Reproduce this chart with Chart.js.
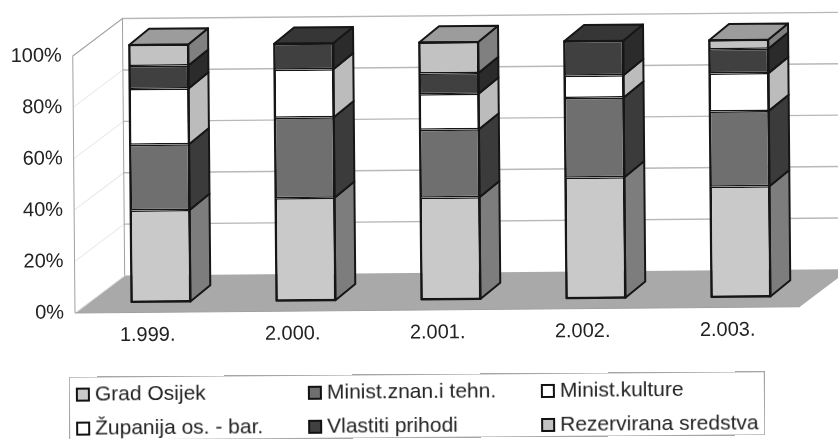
<!DOCTYPE html>
<html>
<head>
<meta charset="utf-8">
<script src="https://cdn.jsdelivr.net/npm/chart.js@4"></script>
<style>
  html, body { margin: 0; padding: 0; background: #fff; }
  #wrap { position: relative; width: 838px; height: 439px; overflow: hidden; }
  #legend {
    position: absolute; left: 69px; top: 374px; width: 696px; height: 64px;
    border: 1px solid #a6a6a6; box-sizing: border-box; transform: rotate(-0.45deg);
    font: 21px "Liberation Sans", Arial, sans-serif; color: #222;
  }
  #legend div.item { position: absolute; white-space: nowrap; }
  #legend i { display: inline-block; width: 10px; height: 10px; border: 2px solid #111; margin-right: 5px; vertical-align: -1px; }
</style>
</head>
<body>
<div id="wrap">
  <canvas id="chart" width="838" height="439"></canvas>
  <div id="legend"></div>
</div>
<script>
const categories = ["1.999.", "2.000.", "2.001.", "2.002.", "2.003."];
const seriesNames = ["Grad Osijek", "Minist.znan.i tehn.", "Minist.kulture", "Županija os. - bar.", "Vlastiti prihodi", "Rezervirana sredstva"];
const gradOsijek = [35.6, 39.9, 39.6, 46.9, 42.9];
const ministZnan = [25.6, 31.3, 26.4, 31.0, 29.3];
const ministKulture = [21.7, 18.7, 13.9, 8.7, 14.7];
const zupanija = [0, 0, 0, 0, 0];
const vlastiti = [8.9, 10.1, 8.0, 13.4, 9.5];
const rezervirana = [8.2, 0, 12.1, 0, 3.5];
const yTicks = [0, 20, 40, 60, 80, 100];

const seriesValues = [gradOsijek, ministZnan, ministKulture, zupanija, vlastiti, rezervirana];
const frontColors = ["#c9c9c9", "#6f6f6f", "#ffffff", "#ffffff", "#404040", "#c2c2c2"];
const sideColors = ["#7d7d7d", "#3b3b3b", "#bcbcbc", "#bcbcbc", "#2b2b2b", "#808080"];
const topColors = ["#a0a0a0", "#555555", "#dddddd", "#dddddd", "#363636", "#9c9c9c"];

const tilt = -0.5 * Math.PI / 180;
const barShift = { x: 13.5, y: -10.5 };
const barDepth = { x: 20, y: -16 };
const wallDepth = { x: 50, y: -37 };

// the scan is a little crooked, so the whole chart gets turned around the origin corner
const tiltPlugin = {
  id: "tilt",
  beforeDraw(chart) {
    const { ctx, chartArea: a } = chart;
    ctx.save();
    ctx.translate(a.left, a.bottom);
    ctx.rotate(tilt);
    ctx.translate(-a.left, -a.bottom);
  },
  afterDraw(chart) {
    chart.ctx.restore();
  }
};

const wallPlugin = {
  id: "walls",
  beforeDatasetsDraw(chart) {
    const { ctx, chartArea: a, scales: { y } } = chart;
    const backLeft = a.left + wallDepth.x;
    const backRight = a.right + wallDepth.x;
    ctx.save();
    // floor
    ctx.fillStyle = "#a9a9a9";
    ctx.beginPath();
    ctx.moveTo(a.left, a.bottom);
    ctx.lineTo(backLeft, a.bottom + wallDepth.y);
    ctx.lineTo(backRight, a.bottom + wallDepth.y);
    ctx.lineTo(a.right, a.bottom);
    ctx.closePath();
    ctx.fill();
    // gridlines over side wall and back wall
    yTicks.forEach(v => {
      const py = y.getPixelForValue(v);
      ctx.strokeStyle = "#e8e8e8";
      ctx.lineWidth = 1;
      ctx.beginPath();
      ctx.moveTo(a.left, py);
      ctx.lineTo(backLeft, py + wallDepth.y);
      ctx.stroke();
      if (v > 0) {
        ctx.strokeStyle = "#b8b8b8";
        ctx.lineWidth = 1.4;
        ctx.beginPath();
        ctx.moveTo(backLeft, py + wallDepth.y);
        ctx.lineTo(backRight, py + wallDepth.y);
        ctx.stroke();
      }
    });
    // wall edges
    ctx.strokeStyle = "#a0a0a0";
    ctx.lineWidth = 1;
    ctx.beginPath();
    ctx.moveTo(a.left, a.bottom);
    ctx.lineTo(a.left, a.top);
    ctx.lineTo(backLeft, a.top + wallDepth.y);
    ctx.lineTo(backLeft, a.bottom + wallDepth.y);
    ctx.moveTo(a.left, a.bottom);
    ctx.lineTo(a.right, a.bottom);
    ctx.stroke();
    ctx.restore();
  }
};

// side and top faces come from the bar elements, the front faces are the plain bars
const boxPlugin = {
  id: "box",
  beforeDatasetsDraw(chart) {
    const ctx = chart.ctx;
    ctx.save();
    ctx.translate(barShift.x, barShift.y);
    ctx.lineWidth = 2;
    ctx.strokeStyle = "#161616";
    ctx.lineJoin = "round";
    categories.forEach((c, i) => {
      let last = -1;
      seriesValues.forEach((vals, s) => {
        if (!vals[i]) return;
        last = s;
        const bar = chart.getDatasetMeta(s).data[i];
        const right = bar.x + bar.width / 2;
        ctx.fillStyle = sideColors[s];
        ctx.beginPath();
        ctx.moveTo(right, bar.base);
        ctx.lineTo(right + barDepth.x, bar.base + barDepth.y);
        ctx.lineTo(right + barDepth.x, bar.y + barDepth.y);
        ctx.lineTo(right, bar.y);
        ctx.closePath();
        ctx.fill();
        ctx.stroke();
      });
      const bar = chart.getDatasetMeta(last).data[i];
      const left = bar.x - bar.width / 2;
      const right = bar.x + bar.width / 2;
      ctx.fillStyle = topColors[last];
      ctx.beginPath();
      ctx.moveTo(left, bar.y);
      ctx.lineTo(left + barDepth.x, bar.y + barDepth.y);
      ctx.lineTo(right + barDepth.x, bar.y + barDepth.y);
      ctx.lineTo(right, bar.y);
      ctx.closePath();
      ctx.fill();
      ctx.stroke();
    });
  },
  afterDatasetsDraw(chart) {
    const ctx = chart.ctx;
    // outer outline of each stack, the segments only carry a thin border of their own
    ctx.lineWidth = 2;
    ctx.strokeStyle = "#161616";
    categories.forEach((c, i) => {
      const first = chart.getDatasetMeta(0).data[i];
      let top = first.y;
      chart.data.datasets.forEach((d, s) => {
        if (seriesValues[s][i]) top = chart.getDatasetMeta(s).data[i].y;
      });
      ctx.strokeRect(first.x - first.width / 2, top, first.width, first.base - top);
    });
    ctx.restore();
  }
};

new Chart(document.getElementById("chart"), {
  type: "bar",
  data: {
    labels: categories,
    datasets: seriesNames.map((name, s) => ({
      label: name,
      data: seriesValues[s],
      backgroundColor: frontColors[s],
      borderColor: "#161616",
      borderWidth: seriesValues[s].map(v => v ? 1.5 : 0),
      borderSkipped: false,
      barPercentage: 0.407,
      categoryPercentage: 1,
      clip: false
    }))
  },
  options: {
    responsive: false,
    animation: false,
    layout: { padding: { top: 56, right: 38, left: 0, bottom: 0 } },
    plugins: { legend: { display: false }, tooltip: { enabled: false } },
    scales: {
      x: {
        stacked: true,
        grid: { display: false },
        border: { display: false },
        afterFit(scale) { scale.height = 126; },
        ticks: { color: "#222", padding: 3, maxRotation: 0, font: { family: "Liberation Sans", size: 20 } }
      },
      y: {
        stacked: true,
        min: 0,
        max: 100,
        grid: { display: false },
        border: { display: false },
        afterFit(scale) { scale.width = 75; },
        afterBuildTicks(scale) { scale.ticks = yTicks.map(v => ({ value: v })); },
        ticks: { color: "#222", padding: 3, callback: v => v + "%", font: { family: "Liberation Sans", size: 20 } }
      }
    }
  },
  plugins: [tiltPlugin, wallPlugin, boxPlugin]
});

const legendSpots = [[6, 4], [238, 4], [471, 4], [6, 38], [238, 38], [471, 38]];
const legend = document.getElementById("legend");
seriesNames.forEach((name, s) => {
  const item = document.createElement("div");
  item.className = "item";
  item.style.left = legendSpots[s][0] + "px";
  item.style.top = legendSpots[s][1] + "px";
  const box = document.createElement("i");
  box.style.background = frontColors[s];
  item.appendChild(box);
  item.appendChild(document.createTextNode(name));
  legend.appendChild(item);
});
</script>
</body>
</html>
